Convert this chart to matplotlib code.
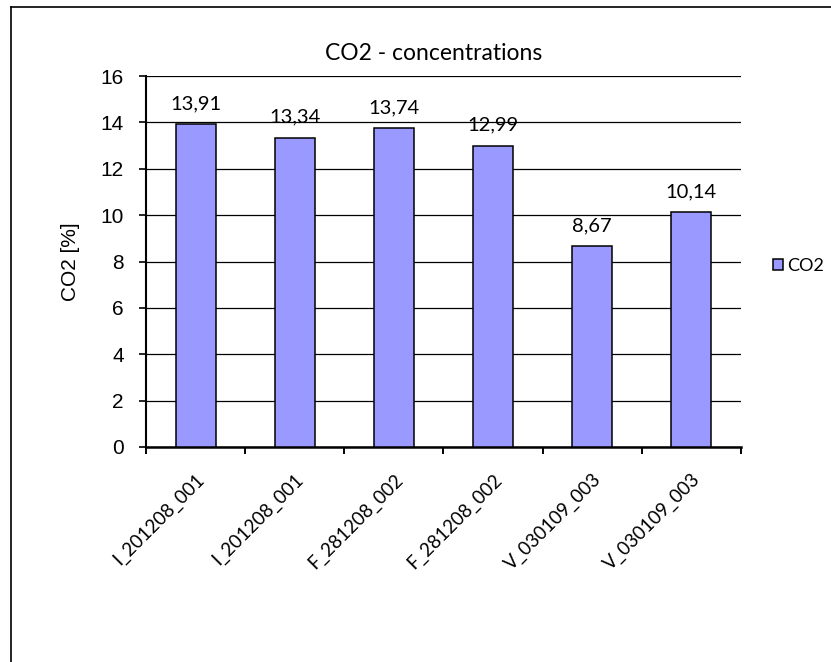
import matplotlib.pyplot as plt
from matplotlib.lines import Line2D

# data
samples = ['I_201208_001', 'I_201208_001', 'F_281208_002',
           'F_281208_002', 'V_030109_003', 'V_030109_003']
co2 = [13.91, 13.34, 13.74, 12.99, 8.67, 10.14]
yticks = [0, 2, 4, 6, 8, 10, 12, 14, 16]

W, H = 831, 662
plt.rcParams['font.family'] = ['Lato', 'DejaVu Sans']
arial = ['Liberation Sans', 'DejaVu Sans']

fig = plt.figure(figsize=(W / 100, H / 100), dpi=100)
# outer chart border (only left and top edges lie inside the picture)
fig.lines.append(Line2D([11 / W, 11 / W], [-0.01, 1 - 7 / H],
                        transform=fig.transFigure, color='black', lw=1.2))
fig.lines.append(Line2D([11 / W, 1.01], [1 - 7 / H, 1 - 7 / H],
                        transform=fig.transFigure, color='black', lw=1.2))

ax = fig.add_axes([146 / W, 1 - 447 / H, 595 / W, 371 / H])
x = list(range(len(samples)))
ax.bar(x, co2, width=0.405, color='#9999ff', edgecolor='black',
       linewidth=1.1, label='CO2', zorder=3)

for xi, v in zip(x, co2):
    ax.annotate(f'{v:.2f}'.replace('.', ','), (xi, v), xytext=(0, 10.8),
                textcoords='offset points', ha='center', va='baseline',
                fontsize=14.5, zorder=4)

ax.set_xlim(-0.5, len(samples) - 0.5)
ax.set_ylim(0, 16)
ax.set_yticks(yticks)
ax.set_yticklabels([str(t) for t in yticks], fontsize=15, family=arial)
ax.yaxis.grid(True, color='black', linewidth=0.9)
ax.set_axisbelow(True)

# x ticks sit on category boundaries, labels at centres
ax.set_xticks([i - 0.5 for i in range(len(samples) + 1)])
ax.set_xticklabels([])
ax.set_xticks(x, minor=True)
ax.set_xticklabels(samples, minor=True, rotation=45, ha='right',
                   rotation_mode='anchor', fontsize=13.5)
ax.tick_params(axis='x', which='minor', length=0, pad=17)
ax.tick_params(axis='x', which='major', length=5, width=1.4, direction='out')
ax.tick_params(axis='y', length=5, width=1.2, direction='out', pad=11)

for s in ['top', 'right']:
    ax.spines[s].set_visible(False)
ax.spines['left'].set_linewidth(1.5)
ax.spines['bottom'].set_linewidth(1.8)

ax.set_ylabel('CO2 [%]', fontsize=15, family=arial, labelpad=15)
fig.text(434 / W, 1 - 60 / H, 'CO2 - concentrations', ha='center',
         va='baseline', fontsize=16.5)

fig.legend(*ax.get_legend_handles_labels(), loc='center left',
           bbox_to_anchor=(764 / W, 1 - 266 / H), frameon=False, borderpad=0,
           fontsize=13, handlelength=0.55, handleheight=0.55,
           handletextpad=0.25)

fig.savefig('out.png', dpi=100)
